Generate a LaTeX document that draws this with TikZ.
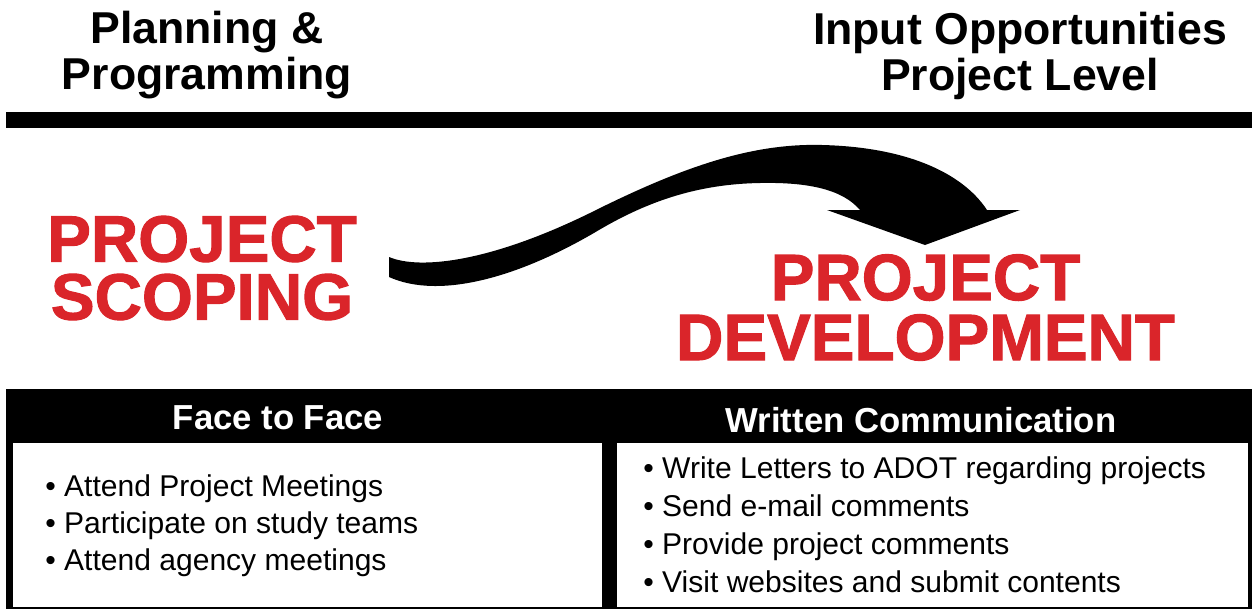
\documentclass[tikz,border=0pt]{standalone}
\usepackage{fontspec}
\setmainfont{Liberation Sans}
\newfontfamily\heavyfont{Liberation Sans Bold}[FakeBold=1.6]
\definecolor{adotred}{RGB}{218,37,42}
\newcommand{\bul}{\textbullet\ }

\begin{document}
\begin{tikzpicture}[x=0.02cm,y=-0.02cm,
	title/.style={inner sep=0pt,align=center,font=\fontsize{25.4}{26.2}\selectfont\bfseries},
	big/.style={inner sep=0pt,align=center,text=adotred,font=\fontsize{37.3}{33}\selectfont\heavyfont},
	hd/.style={inner sep=0pt,anchor=base,text=white,font=\fontsize{19.75}{22}\selectfont\bfseries},
	lst/.style={inner sep=0pt,anchor=north west,align=left}]
	\useasboundingbox (0,0) rectangle (1252,609);
	\node[title] (pp) at (207,55.5) {Planning \&\\Programming};
	\node[title] (io) at (1020,55.5) {Input Opportunities\\Project Level};
	\fill (6,112) rectangle (1252,128);
	\node[big] (ps) at (202,268) {PROJECT\\SCOPING};
	\node[big,font=\fontsize{37.3}{34.1}\selectfont\heavyfont] (pd) at (925.5,307.5) {PROJECT\\DEVELOPMENT};
	\fill (389,257) .. controls (420,270) and (490,262) .. (590,213)
		.. controls (680,168) and (750,143) .. (822,145)
		.. controls (905,147) and (962,172) .. (987,210)
		-- (1020,210) -- (925,245) -- (827,210) -- (860,210)
		.. controls (843,190) and (810,182) .. (760,183)
		.. controls (700,184) and (650,200) .. (599,230)
		.. controls (520,277) and (440,300) .. (389,277) -- cycle;
	\fill (6,389) rectangle (1252,609);
	\fill[white] (13,443) rectangle (602,607);
	\fill[white] (617,443) rectangle (1248,607);
	\node[hd] (ff) at (278,429) {Face to Face};
	\node[hd] (wc) at (921,432) {Written Communication};
	\node[lst,font=\fontsize{17.1}{21.1}\selectfont] (fl) at (45,474.5) {\bul Attend Project Meetings\\\bul Participate on study teams\\\bul Attend agency meetings};
	\node[lst,font=\fontsize{17.1}{21.6}\selectfont] (wl) at (643,456.5) {\bul Write Letters to ADOT regarding projects\\\bul Send e-mail comments\\\bul Provide project comments\\\bul Visit websites and submit contents};
\end{tikzpicture}
\end{document}
